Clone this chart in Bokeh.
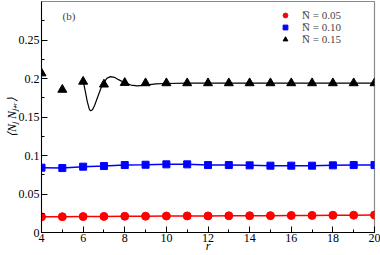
from bokeh.plotting import figure
from bokeh.models import FixedTicker, Legend, LegendItem, Label, Range1d
from bokeh.embed import file_html
from bokeh.resources import INLINE

# data
r = list(range(4, 21))
n005 = [0.0203, 0.0205, 0.0207, 0.0209, 0.0211, 0.0212, 0.0214, 0.0215, 0.0215,
        0.0217, 0.0218, 0.0219, 0.0221, 0.0222, 0.0224, 0.0225, 0.0227]
n010 = [0.0842, 0.0837, 0.0855, 0.0863, 0.0876, 0.0880, 0.0885, 0.0885, 0.0876,
        0.0876, 0.0872, 0.0868, 0.0868, 0.0868, 0.0872, 0.0876, 0.0876]
n015 = [0.2068, 0.1855, 0.1960, 0.1923, 0.1944, 0.1940, 0.1940, 0.1940, 0.1940,
        0.1940, 0.1940, 0.1940, 0.1940, 0.1940, 0.1940, 0.1940, 0.1940]
# smooth curve drawn through the N=0.15 data
curve_r = [6.0, 6.1, 6.2, 6.3, 6.36, 6.45, 6.55, 6.7, 6.85, 7.0, 7.15, 7.32, 7.5,
           7.7, 8.0, 8.3, 8.6, 9.0, 9.5, 10, 11, 12, 14, 16, 18, 20]
curve_v = [0.1970, 0.1840, 0.1700, 0.1600, 0.1580, 0.1595, 0.1650, 0.1760, 0.1870,
           0.1950, 0.2005, 0.2025, 0.2015, 0.1985, 0.1945, 0.1915, 0.1905, 0.1915,
           0.1930, 0.1935, 0.1940, 0.1940, 0.1940, 0.1940, 0.1940, 0.1940]
series_labels = ["N\u0305 = 0.05", "N\u0305 = 0.10", "N\u0305 = 0.15"]
x_ticks = [4, 6, 8, 10, 12, 14, 16, 18, 20]
y_ticks = [0, 0.05, 0.1, 0.15, 0.2, 0.25]
y_tick_labels = ["0", "0.05", "0.1", "0.15", "0.2", "0.25"]

FONT = "Liberation Serif"

p = figure(width=380, height=255, output_backend="svg", toolbar_location=None,
           x_range=Range1d(4, 20), y_range=Range1d(0, 0.3),
           min_border_left=41, min_border_right=6, min_border_top=1, min_border_bottom=22,
           styles={"position": "absolute", "left": "0px", "top": "0px"})
p.grid.visible = False
p.outline_line_color = "#8a8a8a"
p.outline_line_width = 1.2
p.background_fill_color = "white"
p.border_fill_color = "white"

l1 = p.line(r, n005, color="#ff0000", line_width=1.5)
c1 = p.scatter(r, n005, marker="circle", size=8, color="#ff0000")
l2 = p.line(r, n010, color="#0000ff", line_width=1.5)
c2 = p.scatter(r, n010, marker="square", size=7, color="#0000ff")
l3 = p.line(curve_r, curve_v, color="black", line_width=1.2)
c3 = p.scatter(r, n015, marker="triangle", size=9, color="black")

p.xaxis.ticker = FixedTicker(ticks=x_ticks, minor_ticks=list(range(4, 21)))
p.yaxis.ticker = FixedTicker(ticks=y_ticks, minor_ticks=[i * 0.025 for i in range(13)])
p.yaxis.major_label_overrides = {t: s for t, s in zip(y_ticks, y_tick_labels)}
for ax in (p.xaxis, p.yaxis):
    ax.major_tick_in = 6
    ax.major_tick_out = 0
    ax.minor_tick_in = 3
    ax.minor_tick_out = 0
    ax.axis_line_color = "black"
    ax.major_tick_line_color = "black"
    ax.minor_tick_line_color = "black"
    ax.major_label_text_font = FONT
    ax.major_label_text_font_size = "12px"
    ax.major_label_text_color = "black"
    ax.axis_label_text_font = FONT
    ax.axis_label_text_font_size = "12px"
    ax.axis_label_text_font_style = "italic"
    ax.axis_label_text_color = "black"
p.xaxis.major_label_standoff = 1
p.yaxis.major_label_standoff = 2
p.xaxis.axis_label = "r"
p.xaxis.axis_label_standoff = -6
p.yaxis.axis_label = "\u27e8N\u2c7c N\u2c7c\u208a\u1d63\u27e9"
p.yaxis.axis_label_standoff = -3

legend = Legend(items=[LegendItem(label=series_labels[0], renderers=[c1]),
                       LegendItem(label=series_labels[1], renderers=[c2]),
                       LegendItem(label=series_labels[2], renderers=[c3])],
                location=(237, 187), padding=0, margin=0, spacing=0,
                glyph_width=14, glyph_height=12, label_height=12,
                label_standoff=10, label_text_font=FONT, label_text_font_size="11px",
                background_fill_alpha=0, border_line_alpha=0)
p.add_layout(legend)

p.add_layout(Label(x=21, y=217, x_units="screen", y_units="screen", text="(b)",
                   text_font=FONT, text_font_size="11px", text_baseline="middle"))

open("out.html", "w").write(file_html(p, INLINE))
